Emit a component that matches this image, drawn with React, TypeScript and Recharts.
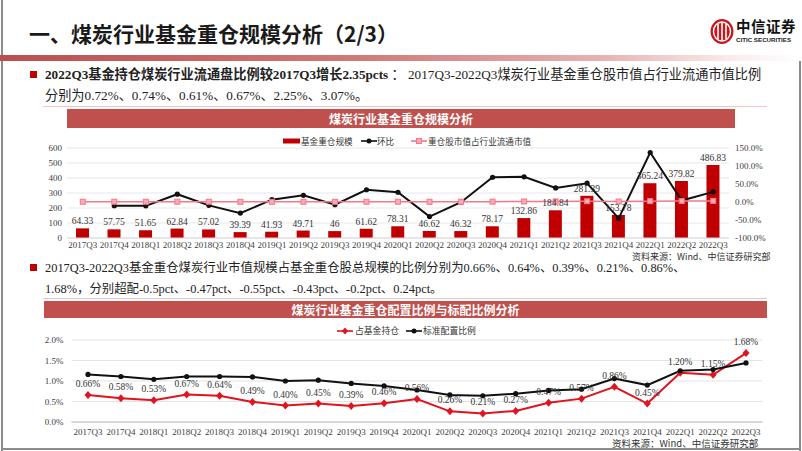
import { Bar, CartesianGrid, ComposedChart, LabelList, Line, LineChart, XAxis, YAxis } from "recharts";

const quarters = [
  "2017Q3", "2017Q4", "2018Q1", "2018Q2", "2018Q3", "2018Q4", "2019Q1", "2019Q2", "2019Q3", "2019Q4",
  "2020Q1", "2020Q2", "2020Q3", "2020Q4", "2021Q1", "2021Q2", "2021Q3", "2021Q4", "2022Q1", "2022Q2", "2022Q3",
];

// 基金重仓规模（亿元）
const fundScale = [
  64.33, 57.75, 51.65, 62.84, 57.02, 39.39, 41.93, 49.71, 46, 61.62,
  78.31, 46.62, 46.32, 78.17, 132.86, 184.84, 281.39, 153.78, 365.24, 379.82, 486.83,
];
// 环比（%）
const qoqGrowth = [
  null, -10.2, -10.6, 21.7, -9.3, -30.9, 6.4, 18.6, -7.5, 34.0,
  27.1, -40.5, -0.6, 68.8, 70.0, 39.1, 52.2, -45.3, 137.5, 4.0, 28.2,
];
// 重仓股市值占行业流通市值（%）
const floatShare = [
  0.72, 0.7, 0.65, 0.72, 0.74, 0.55, 0.56, 0.6, 0.61, 0.7,
  0.85, 0.55, 0.67, 1.0, 1.4, 1.6, 2.25, 1.3, 2.4, 2.5, 3.07,
];
// 占基金持仓（%）
const holdingRatio = [
  0.66, 0.58, 0.53, 0.67, 0.64, 0.49, 0.4, 0.45, 0.39, 0.46,
  0.56, 0.26, 0.21, 0.27, 0.47, 0.57, 0.86, 0.45, 1.2, 1.15, 1.68,
];
// 标准配置比例（%）
const benchmarkRatio = [
  1.16, 1.11, 1.04, 1.11, 1.11, 1.1, 1.0, 1.02, 0.94, 0.88,
  0.78, 0.66, 0.64, 0.69, 0.77, 0.8, 1.06, 0.9, 1.25, 1.28, 1.44,
];

const scaleTicks = [0, 100, 200, 300, 400, 500, 600];
const growthTicks = [-100, -50, 0, 50, 100, 150];
const ratioTicks = [0, 0.5, 1, 1.5, 2];

const scaleData = quarters.map((q, i) => ({ q, scale: fundScale[i], qoq: qoqGrowth[i], share: floatShare[i] }));
const ratioData = quarters.map((q, i) => ({ q, hold: holdingRatio[i], bench: benchmarkRatio[i] }));

const SERIF = "'Liberation Serif', 'Noto Sans CJK SC', serif";
const SANS = "'Noto Sans CJK SC', 'Noto Sans', sans-serif";
const RED = "#c00000";
const PINK = "#f4788a";
const LINE_RED = "#e0141e";

const tickStyle = { fontSize: 9, fill: "#404040", fontFamily: SERIF };

const blackDot = (p: any) =>
  p.cy == null ? <g key={p.index} /> : <circle key={p.index} cx={p.cx} cy={p.cy} r={2.6} fill="#111" />;

const pinkSquare = (p: any) => (
  <rect key={p.index} x={p.cx - 2.5} y={p.cy - 2.5} width={5} height={5} fill="#f9aab4" stroke={PINK} strokeWidth={1} />
);

const redDiamond = (p: any) => (
  <polygon
    key={p.index}
    points={`${p.cx},${p.cy - 4} ${p.cx + 3.5},${p.cy} ${p.cx},${p.cy + 4} ${p.cx - 3.5},${p.cy}`}
    fill={LINE_RED}
  />
);

function Bullet({ top }: { top: number }) {
  return <div style={{ position: "absolute", left: 30, top, width: 7, height: 7, background: RED }} />;
}

function Banner({ left, top, width, height, text }: { left: number; top: number; width: number; height: number; text: string }) {
  return (
    <div
      style={{
        position: "absolute", left, top, width, height, background: "#c0504d", color: "#fff",
        fontFamily: SANS, fontWeight: 700, fontSize: 12, lineHeight: `${height}px`, textAlign: "center",
      }}
    >
      {text}
    </div>
  );
}

function LegendLine({ x, y, color, marker }: { x: number; y: number; color: string; marker: "circle" | "square" | "diamond" | "bar" }) {
  return (
    <svg style={{ position: "absolute", left: x, top: y - 5 }} width={18} height={10}>
      {marker === "bar" ? (
        <rect x={0} y={2.5} width={17} height={5} fill={color} />
      ) : (
        <>
          <line x1={0} y1={5} x2={16} y2={5} stroke={color} strokeWidth={1.6} />
          {marker === "circle" && <circle cx={8} cy={5} r={2.5} fill={color} />}
          {marker === "square" && <rect x={5.5} y={2.5} width={5} height={5} fill="#f9aab4" stroke={color} />}
          {marker === "diamond" && <polygon points="8,1.5 11,5 8,8.5 5,5" fill={color} />}
        </>
      )}
    </svg>
  );
}

function LegendText({ x, y, text, size = 8.6 }: { x: number; y: number; text: string; size?: number }) {
  return (
    <div style={{ position: "absolute", left: x, top: y - 7, fontSize: size, lineHeight: "14px", fontFamily: SANS, color: "#333", whiteSpace: "nowrap" }}>
      {text}
    </div>
  );
}

function TextLine({ top, left = 45, size = 13.2, children }: { top: number; left?: number; size?: number; children: any }) {
  return (
    <div style={{ position: "absolute", left, top: top - 7, fontSize: size, lineHeight: "14px", fontFamily: SERIF, color: "#222", whiteSpace: "nowrap" }}>
      {children}
    </div>
  );
}

function Logo() {
  return (
    <>
      <svg style={{ position: "absolute", left: 709, top: 18 }} width={26} height={27}>
        <ellipse cx={13} cy={13.5} rx={11.5} ry={12.5} fill="#c8161d" />
        <ellipse cx={13} cy={13.5} rx={8.5} ry={9.5} fill="none" stroke="#fff" strokeWidth={1.4} />
        <line x1={9} y1={6} x2={9} y2={21} stroke="#fff" strokeWidth={1.6} />
        <line x1={13} y1={5} x2={13} y2={22} stroke="#fff" strokeWidth={1.6} />
        <line x1={17} y1={6} x2={17} y2={21} stroke="#fff" strokeWidth={1.6} />
      </svg>
      <div style={{ position: "absolute", left: 736, top: 18, fontSize: 14.5, fontWeight: 700, fontFamily: SERIF, color: "#111", lineHeight: "18px", letterSpacing: 0.5 }}>
        中信证券
      </div>
      <div style={{ position: "absolute", left: 736, top: 36, fontSize: 6.2, fontWeight: 700, fontFamily: "'Liberation Sans', sans-serif", color: "#222", lineHeight: "8px", whiteSpace: "nowrap" }}>
        CITIC SECURITIES
      </div>
    </>
  );
}

export default function App() {
  return (
    <div style={{ position: "absolute", left: 0, top: 0, width: 802, height: 451, background: "#fff", overflow: "hidden" }}>
      {/* frame */}
      <div style={{ position: "absolute", left: 1, top: 0, width: 2, height: 451, background: "#8c8c8c" }} />
      <div style={{ position: "absolute", left: 799, top: 58, width: 2, height: 393, background: "#8c8c8c" }} />
      <div style={{ position: "absolute", left: 1, top: 448, width: 800, height: 2, background: "#8c8c8c" }} />

      <div style={{ position: "absolute", left: 29, top: 19, fontSize: 21, fontWeight: 700, fontFamily: SANS, color: "#1a1a1a", lineHeight: "28px", whiteSpace: "nowrap" }}>
        一、煤炭行业基金重仓规模分析（2/3）
      </div>
      <Logo />
      <div
        style={{
          position: "absolute", left: 0, top: 55, width: 802, height: 6,
          background: "linear-gradient(to right, #b9504f 0%, #cf7a78 45%, #e6b3b1 75%, #fbeeee 92%, #ffffff 100%)",
        }}
      />

      <Bullet top={71} />
      <TextLine top={75}>
        <b>2022Q3基金持仓煤炭行业流通盘比例较2017Q3增长2.35pcts</b> ： 2017Q3-2022Q3煤炭行业基金重仓股市值占行业流通市值比例
      </TextLine>
      <TextLine top={96}>分别为0.72%、0.74%、0.61%、0.67%、2.25%、3.07%。</TextLine>
      <div style={{ position: "absolute", left: 43, top: 106, width: 724, height: 1, background: "#f2c4c2" }} />

      <Banner left={67} top={109} width={668} height={19} text="煤炭行业基金重仓规模分析" />
      <LegendLine x={283} y={141} color={RED} marker="bar" />
      <LegendText x={301} y={141} text="基金重仓规模" />
      <LegendLine x={361} y={141} color="#111" marker="circle" />
      <LegendText x={377} y={141} text="环比" />
      <LegendLine x={411} y={141} color={PINK} marker="square" />
      <LegendText x={428} y={141} text="重仓股市值占行业流通市值" />

      <div style={{ position: "absolute", left: 0, top: 130 }}>
        <ComposedChart width={802} height={130} data={scaleData} margin={{ top: 18, right: 0, bottom: 0, left: 0 }}>
          <CartesianGrid yAxisId="left" vertical={false} stroke="#e8e8e8" />
          <XAxis dataKey="q" interval={0} tickLine={false} tickSize={0} tickMargin={4} axisLine={{ stroke: "#d9d9d9" }} tick={tickStyle} height={22} />
          <YAxis
            yAxisId="left" width={67} domain={[0, 600]} ticks={scaleTicks} interval={0}
            axisLine={false} tickLine={false} tickSize={0} tickMargin={5} tick={tickStyle}
          />
          <YAxis
            yAxisId="right" orientation="right" width={73} domain={[-100, 150]} ticks={growthTicks} interval={0}
            axisLine={false} tickLine={false} tickSize={0} tickMargin={6} tick={tickStyle}
            tickFormatter={(v) => `${Number(v).toFixed(1)}%`}
          />
          <Bar yAxisId="left" dataKey="scale" fill={RED} barSize={13} isAnimationActive={false}>
            <LabelList dataKey="scale" position="top" offset={4} style={{ fontSize: 9.5, fill: "#333", fontFamily: SERIF }} />
          </Bar>
          <Line yAxisId="right" dataKey="qoq" stroke="#111" strokeWidth={2} dot={blackDot} activeDot={false} isAnimationActive={false} />
          <Line yAxisId="right" dataKey="share" stroke={PINK} strokeWidth={1.5} dot={pinkSquare} activeDot={false} isAnimationActive={false} />
        </ComposedChart>
      </div>
      <div style={{ position: "absolute", left: 632, top: 253, fontSize: 9, lineHeight: "8px", fontFamily: SANS, color: "#333", whiteSpace: "nowrap" }}>
        资料来源：Wind、中信证券研究部
      </div>

      <Bullet top={264} />
      <TextLine top={268} size={12.4}>
        2017Q3-2022Q3基金重仓煤炭行业市值规模占基金重仓股总规模的比例分别为0.66%、0.64%、0.39%、0.21%、0.86%、
      </TextLine>
      <TextLine top={289} size={12.4}>1.68%，分别超配-0.5pct、-0.47pct、-0.55pct、-0.43pct、-0.2pct、0.24pct。</TextLine>
      <div style={{ position: "absolute", left: 43, top: 298, width: 724, height: 1, background: "#f2c4c2" }} />

      <Banner left={44} top={301} width={723} height={17} text="煤炭行业基金重仓配置比例与标配比例分析" />
      <LegendLine x={337} y={331} color={LINE_RED} marker="diamond" />
      <LegendText x={355} y={331} text="占基金持仓" size={8.8} />
      <LegendLine x={406} y={331} color="#111" marker="circle" />
      <LegendText x={423} y={331} text="标准配置比例" size={8.8} />

      <div style={{ position: "absolute", left: 0, top: 330 }}>
        <LineChart width={802} height={112} data={ratioData} margin={{ top: 10, right: 39.5, bottom: 0, left: 0 }}>
          <CartesianGrid vertical={false} stroke="#e3e3e3" />
          <XAxis
            dataKey="q" interval={0} tickLine={false} tickSize={0} tickMargin={7} padding={{ left: 16.5, right: 16.5 }}
            axisLine={{ stroke: "#bfbfbf" }} tick={tickStyle} height={20}
          />
          <YAxis
            width={71.5} domain={[0, 2]} ticks={ratioTicks} interval={0} axisLine={false} tickLine={false} tickSize={0} tickMargin={8}
            tick={tickStyle} tickFormatter={(v) => `${Number(v).toFixed(1)}%`}
          />
          <Line dataKey="hold" stroke={LINE_RED} strokeWidth={2} dot={redDiamond} activeDot={false} isAnimationActive={false}>
            <LabelList
              dataKey="hold" position="top" offset={8}
              formatter={(v: any) => `${Number(v).toFixed(2)}%`}
              style={{ fontSize: 9.5, fill: "#333", fontFamily: SERIF }}
            />
          </Line>
          <Line dataKey="bench" stroke="#111" strokeWidth={2} dot={blackDot} activeDot={false} isAnimationActive={false} />
        </LineChart>
      </div>
      <div style={{ position: "absolute", left: 612, top: 437, fontSize: 9.5, lineHeight: "12px", fontFamily: SANS, color: "#333", whiteSpace: "nowrap" }}>
        资料来源：Wind、中信证券研究部
      </div>
    </div>
  );
}
